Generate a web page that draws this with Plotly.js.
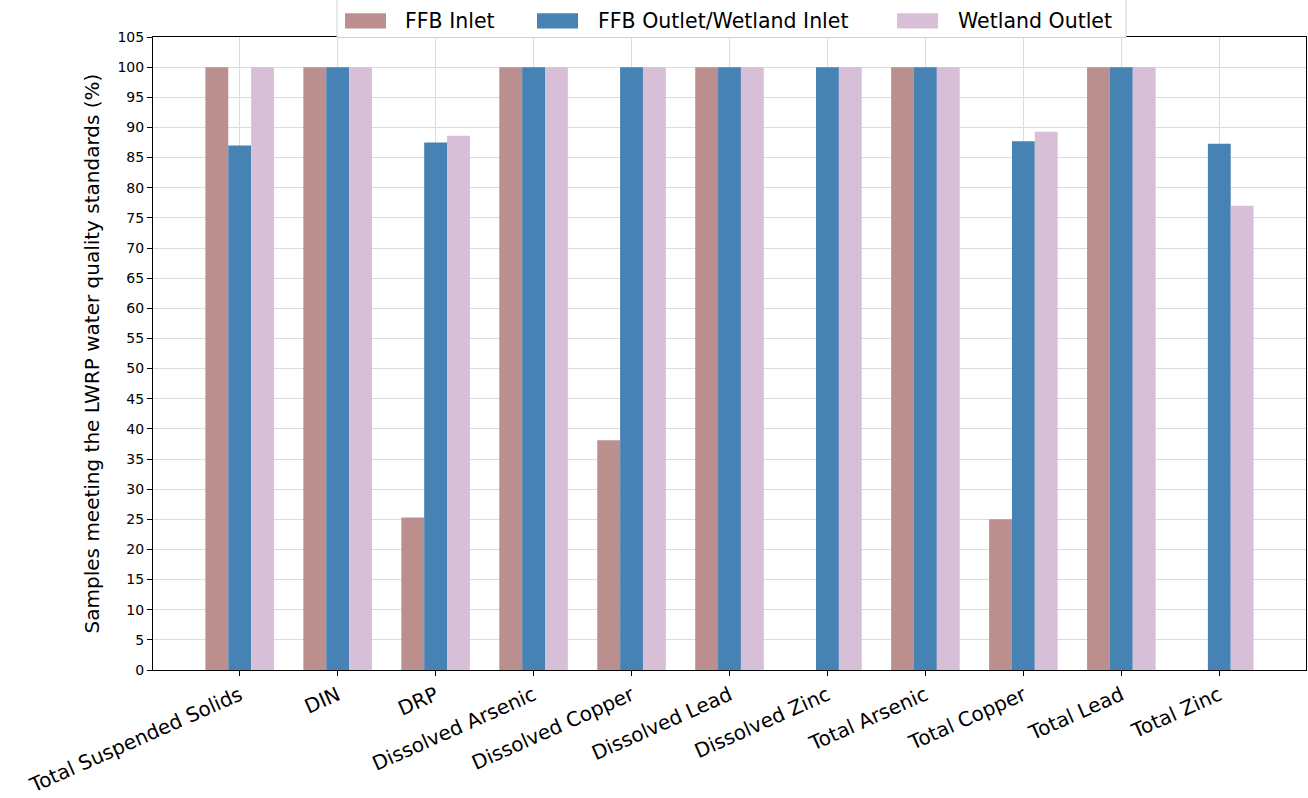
<!DOCTYPE html>
<html>
<head>
<meta charset="utf-8">
<script src="https://cdn.plot.ly/plotly-3.0.1.min.js"></script>
<style>html,body{margin:0;padding:0;background:#fff;}#chart{width:1308px;height:798px;}</style>
</head>
<body>
<div id="chart"></div>
<script>
const categories = ["Total Suspended Solids","DIN","DRP","Dissolved Arsenic","Dissolved Copper","Dissolved Lead","Dissolved Zinc","Total Arsenic","Total Copper","Total Lead","Total Zinc"];
const seriesNames = ["FFB Inlet","FFB Outlet/Wetland Inlet","Wetland Outlet"];
const ffbInlet = [100,100,25.3,100,38.1,100,0,100,25,100,0];
const ffbOutlet = [87,100,87.5,100,100,100,100,100,87.7,100,87.3];
const wetlandOutlet = [100,100,88.6,100,100,100,100,100,89.3,100,77.0];
const yTicks = [0,5,10,15,20,25,30,35,40,45,50,55,60,65,70,75,80,85,90,95,100,105];
const colors = ['#BC8F8F','#4682B4','#D8BFD8'];

const W = 1308, H = 798;
const M = {l:153, r:2, t:37, b:128};
const PW = W - M.l - M.r, PH = H - M.t - M.b;
const px = x => (x - M.l) / PW;
const py = y => (H - M.b - y) / PH;

const idx = categories.map((c,i)=>i);
const values = [ffbInlet, ffbOutlet, wetlandOutlet];
const traces = values.map((v,k)=>({type:'bar', name:seriesNames[k], x:idx, y:v,
  marker:{color:colors[k], line:{width:0}}, showlegend:false}));

// custom matplotlib-style legend (positions in pixels)
const swatchX = [[345,386],[537,578],[897,938]];
const textX = [404,597,957];
const shapes = [
  {type:'rect', xref:'paper', yref:'paper', x0:px(337), x1:px(1126), y0:py(37.5), y1:py(-6),
   fillcolor:'#ffffff', line:{color:'#d0d0d0', width:1}, layer:'above'}
];
const annotations = [];
seriesNames.forEach((n,k)=>{
  shapes.push({type:'rect', xref:'paper', yref:'paper', x0:px(swatchX[k][0]), x1:px(swatchX[k][1]),
    y0:py(28.5), y1:py(13.3), fillcolor:colors[k], line:{width:0}, layer:'above'});
  annotations.push({xref:'paper', yref:'paper', x:px(textX[k]), y:py(21), xanchor:'left', yanchor:'middle',
    text:n, showarrow:false, font:{size:20.5, color:'#000'}, borderpad:0});
});

const layout = {
  width:W, height:H,
  margin:M,
  paper_bgcolor:'#fff', plot_bgcolor:'#fff',
  font:{family:'DejaVu Sans, sans-serif', color:'#000', size:14},
  barmode:'group', bargap:0.3, bargroupgap:0,
  showlegend:false,
  shapes:shapes, annotations:annotations,
  xaxis:{range:[-0.885,10.885], tickmode:'array', tickvals:idx, ticktext:categories,
    tickangle:-24, tickfont:{size:20}, showgrid:true, gridcolor:'#dcdcdc', gridwidth:1,
    showline:true, linecolor:'#000', linewidth:1, mirror:true, ticks:'outside', ticklen:5, tickcolor:'#000', zeroline:false},
  yaxis:{range:[0,105], tickmode:'array', tickvals:yTicks, tickfont:{size:14},
    title:{text:'Samples meeting the LWRP water quality standards (%)', font:{size:20}, standoff:12},
    showgrid:true, gridcolor:'#dcdcdc', gridwidth:1,
    showline:true, linecolor:'#000', linewidth:1, mirror:true, ticks:'outside', ticklen:5, tickcolor:'#000', zeroline:false}
};
Plotly.newPlot('chart', traces, layout, {displayModeBar:false, staticPlot:true});
</script>
</body>
</html>
